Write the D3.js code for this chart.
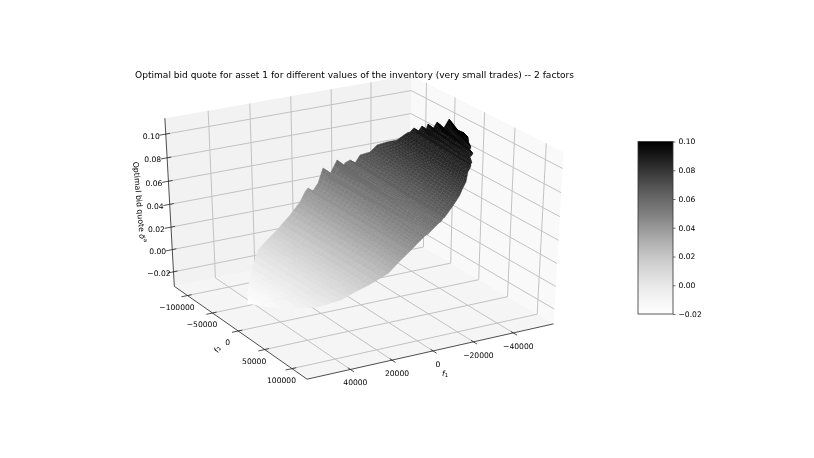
<!DOCTYPE html>
<html>
<head>
<meta charset="utf-8">
<script src="https://d3js.org/d3.v7.min.js"></script>
<style>
  body { margin: 0; background: #fff; }
  svg { filter: blur(0.3px); }
  text { font-family: "DejaVu Sans"; fill: #000; }
</style>
</head>
<body>
<svg id="chart" width="814" height="458"></svg>
<script>
// axis ticks
var f1Ticks = [-40000, -20000, 0, 20000, 40000];
var f2Ticks = [-100000, -50000, 0, 50000, 100000];
var zTicks = [-0.02, 0, 0.02, 0.04, 0.06, 0.08, 0.10];
var f1Limits = [-60500, 60500];
var f2Limits = [-127000, 127000];
var zLimits = [-0.0332, 0.1132];
var colorLimits = [-0.02, 0.10];

// surface outline: back edge of the sheet
var upperF1 = [49900, 47400, 43300, 37800, 30600, 25400, 20000, 12200, 5800, 1400, -600, -100, -4400, -10500, -10000, -8100, -16100, -12500, -16600, -18700, -18600, -22400, -25400, -29200, -32100, -34700, -39100, -40000, -42100, -40900, -44300, -42800, -46100, -44800, -48500, -46300, -51800, -49300, -49600, -49400];
var upperF2 = [-22100, -31900, -45700, -61100, -77000, -79600, -81100, -85500, -90800, -97900, -99700, -90100, -94800, -108300, -98600, -89900, -102700, -84000, -89800, -88000, -78600, -83200, -75800, -76800, -69500, -60900, -58700, -56600, -57200, -47700, -50900, -40200, -46800, -35000, -39400, -23000, -30100, -14800, -400, 5200];
var upperZ = [-0.0194, -0.0163, -0.0115, -0.0049, 0.0038, 0.0100, 0.0165, 0.0258, 0.0336, 0.0389, 0.0412, 0.0406, 0.0457, 0.0531, 0.0524, 0.0502, 0.0598, 0.0556, 0.0605, 0.0629, 0.0628, 0.0673, 0.0709, 0.0755, 0.0790, 0.0822, 0.0874, 0.0885, 0.0911, 0.0896, 0.0937, 0.0918, 0.0959, 0.0942, 0.0987, 0.0960, 0.1026, 0.0997, 0.1000, 0.0998];
// front edge of the sheet
var lowerF1 = [49900, 47600, 42400, 36600, 29500, 24100, 19100, 11600, 5800, 1100, 100, -400, -4000, -7600, -8900, -9900, -11400, -14500, -15400, -17300, -17600, -20900, -24100, -27700, -30600, -33200, -36900, -38700, -39900, -40000, -40700, -41600, -42400, -43500, -44300, -44800, -46000, -47000, -48900, -49400];
var lowerF2 = [-22100, -2300, 32000, 55600, 72100, 77100, 83300, 89300, 87200, 86000, 85700, 85600, 84600, 83600, 84400, 84100, 83700, 82900, 83200, 81600, 82000, 79000, 76000, 71900, 66800, 62900, 53300, 50700, 48200, 46000, 46900, 42400, 37800, 37500, 36200, 29500, 27000, 20200, 12000, 5200];
var lowerZ = [-0.0194, -0.0167, -0.0104, -0.0034, 0.0051, 0.0116, 0.0176, 0.0265, 0.0335, 0.0391, 0.0404, 0.0410, 0.0453, 0.0497, 0.0511, 0.0524, 0.0542, 0.0580, 0.0590, 0.0613, 0.0617, 0.0656, 0.0695, 0.0738, 0.0773, 0.0803, 0.0848, 0.0869, 0.0883, 0.0885, 0.0894, 0.0904, 0.0914, 0.0926, 0.0937, 0.0943, 0.0957, 0.0969, 0.0992, 0.0998];

var svg = d3.select("#chart");

// data to unit cube
var xScale = d3.scaleLinear().domain(f1Limits).range([-0.5, 0.5]);
var yScale = d3.scaleLinear().domain(f2Limits).range([-0.5, 0.5]);
var zScale = d3.scaleLinear().domain(zLimits).range([-0.5, 0.5]);

var colorScale = d3.scaleSequential(d3.interpolateGreys).domain(colorLimits).clamp(true);

// camera: elevation 30, azimuth 60, distance 10
var azim = 60 * Math.PI / 180;
var elev = 30 * Math.PI / 180;
var eye = [Math.cos(elev) * Math.cos(azim), Math.cos(elev) * Math.sin(azim), Math.sin(elev)];
var right = [-Math.sin(azim), Math.cos(azim), 0];
var up = [-Math.sin(elev) * Math.cos(azim), -Math.sin(elev) * Math.sin(azim), Math.cos(elev)];
var screenX = d3.scaleLinear().domain([0, 1]).range([361, 645.5]);
var screenY = d3.scaleLinear().domain([0, 1]).range([222, 26]);

function dot(a, b) { return a[0] * b[0] + a[1] * b[1] + a[2] * b[2]; }

function project(f1, f2, z) {
  var p = [xScale(f1), yScale(f2), zScale(z)];
  var w = 10 / (10 - dot(p, eye));
  return [screenX(dot(p, right) * w), screenY(dot(p, up) * w)];
}

var line3d = d3.line();

var f1a = f1Limits[0], f1b = f1Limits[1];
var f2a = f2Limits[0], f2b = f2Limits[1];
var za = zLimits[0], zb = zLimits[1];

// panes
var panes = [
  { fill: "#f2f2f2", pts: [[f1a, f2a, za], [f1b, f2a, za], [f1b, f2a, zb], [f1a, f2a, zb]] },
  { fill: "#f9f9f9", pts: [[f1a, f2a, za], [f1a, f2b, za], [f1a, f2b, zb], [f1a, f2a, zb]] },
  { fill: "#f5f5f5", pts: [[f1a, f2a, za], [f1b, f2a, za], [f1b, f2b, za], [f1a, f2b, za]] }
];
svg.append("g").selectAll("path")
  .data(panes)
  .enter()
  .append("path")
  .attr("d", function (d) { return line3d(d.pts.map(function (p) { return project(p[0], p[1], p[2]); })) + "Z"; })
  .attr("fill", function (d) { return d.fill; });

// grid lines run along the floor and up the two back walls
var gridLines = [];
f1Ticks.forEach(function (t) { gridLines.push([[t, f2b, za], [t, f2a, za], [t, f2a, zb]]); });
f2Ticks.forEach(function (t) { gridLines.push([[f1b, t, za], [f1a, t, za], [f1a, t, zb]]); });
zTicks.forEach(function (t) { gridLines.push([[f1b, f2a, t], [f1a, f2a, t], [f1a, f2b, t]]); });

svg.append("g").selectAll("path")
  .data(gridLines)
  .enter()
  .append("path")
  .attr("d", function (d) { return line3d(d.map(function (p) { return project(p[0], p[1], p[2]); })); })
  .attr("fill", "none")
  .attr("stroke", "#c2c2c2")
  .attr("stroke-width", 1);

// surface, each cell between two outline stations split up so the grey runs smoothly
var surface = svg.append("g");
var alongSteps = 3, acrossSteps = 24;

function sheetPoint(i, s, t) {
  var j = Math.min(i + 1, upperF1.length - 1);
  var uF1 = upperF1[i] + (upperF1[j] - upperF1[i]) * s;
  var uF2 = upperF2[i] + (upperF2[j] - upperF2[i]) * s;
  var uZ = upperZ[i] + (upperZ[j] - upperZ[i]) * s;
  var lF1 = lowerF1[i] + (lowerF1[j] - lowerF1[i]) * s;
  var lF2 = lowerF2[i] + (lowerF2[j] - lowerF2[i]) * s;
  var lZ = lowerZ[i] + (lowerZ[j] - lowerZ[i]) * s;
  return [uF1 + (lF1 - uF1) * t, uF2 + (lF2 - uF2) * t, uZ + (lZ - uZ) * t];
}

var cells = [];
d3.range(upperF1.length - 1).forEach(function (i) {
  d3.range(alongSteps).forEach(function (a) {
    d3.range(acrossSteps).forEach(function (b) {
      var s0 = a / alongSteps, s1 = (a + 1) / alongSteps;
      var t0 = b / acrossSteps, t1 = (b + 1) / acrossSteps;
      var corners = [sheetPoint(i, s0, t0), sheetPoint(i, s1, t0), sheetPoint(i, s1, t1), sheetPoint(i, s0, t1)];
      cells.push({ corners: corners, z: d3.mean(corners, function (c) { return c[2]; }) });
    });
  });
});

surface.selectAll("path")
  .data(cells)
  .enter()
  .append("path")
  .attr("d", function (d) { return line3d(d.corners.map(function (c) { return project(c[0], c[1], c[2]); })) + "Z"; })
  .attr("fill", function (d) { return colorScale(d.z); })
  .attr("stroke", function (d) { return colorScale(d.z); })
  .attr("stroke-width", 0.4);

// axis edges
var edges = [
  [[f1b, f2b, za], [f1a, f2b, za]],
  [[f1b, f2a, za], [f1b, f2b, za]],
  [[f1b, f2a, za], [f1b, f2a, zb]]
];
svg.append("g").selectAll("path")
  .data(edges)
  .enter()
  .append("path")
  .attr("d", function (d) { return line3d(d.map(function (p) { return project(p[0], p[1], p[2]); })); })
  .attr("stroke", "#222")
  .attr("stroke-width", 0.8);

// tick marks and labels
function tickLine(a, b) {
  svg.append("path")
    .attr("d", line3d([project(a[0], a[1], a[2]), project(b[0], b[1], b[2])]))
    .attr("stroke", "#222")
    .attr("stroke-width", 0.8);
}

function tickText(pos, dx, dy, label) {
  svg.append("text")
    .attr("x", pos[0] + dx)
    .attr("y", pos[1] + dy)
    .attr("text-anchor", "middle")
    .attr("dominant-baseline", "central")
    .attr("font-size", 7.6)
    .text(label);
}

var intFormat = d3.format("d");
var zFormat = d3.format(".2f");

f1Ticks.forEach(function (t) {
  tickLine([t, f2b - 4000, za], [t, f2b + 6000, za]);
  tickText(project(t, f2b, za), 5, 13.5, intFormat(t));
});
f2Ticks.forEach(function (t) {
  tickLine([f1b - 2000, t, za], [f1b + 3000, t, za]);
  tickText(project(f1b, t, za), -10.5, 11.5, intFormat(t));
});
zTicks.forEach(function (t) {
  tickLine([f1b - 2000, f2a, t], [f1b + 3000, f2a, t]);
  tickText(project(f1b, f2a, t), -14.5, 2, zFormat(t));
});

// title and axis labels
svg.append("text")
  .attr("x", 135)
  .attr("y", 78)
  .attr("font-size", 9.09)
  .text("Optimal bid quote for asset 1 for different values of the inventory (very small trades) -- 2 factors");

var f1Label = svg.append("text")
  .attr("x", 445)
  .attr("y", 373)
  .attr("text-anchor", "middle")
  .attr("dominant-baseline", "central")
  .attr("font-size", 7.6);
f1Label.append("tspan").attr("font-style", "italic").text("f");
f1Label.append("tspan").attr("font-size", 5.4).attr("dy", 1.5).text("1");

var f2Label = svg.append("text")
  .attr("text-anchor", "middle")
  .attr("dominant-baseline", "central")
  .attr("font-size", 7.6)
  .attr("transform", "translate(217,349) rotate(-60)");
f2Label.append("tspan").attr("font-style", "italic").text("f");
f2Label.append("tspan").attr("font-size", 5.4).attr("dy", 1.5).text("2");

var zLabel = svg.append("text")
  .attr("text-anchor", "middle")
  .attr("dominant-baseline", "central")
  .attr("font-size", 7.8)
  .attr("transform", "translate(139.5,202) rotate(85)");
zLabel.append("tspan").text("Optimal bid quote ");
zLabel.append("tspan").attr("font-style", "italic").text("δ");
zLabel.append("tspan").attr("font-size", 5.4).attr("dy", -3).text("a");

// colorbar
var barX = 638, barW = 35, barTop = 141.5, barBottom = 314;
var barScale = d3.scaleLinear().domain(colorLimits).range([barBottom, barTop]);
var barStops = d3.range(0, 1.001, 0.05);

var barGradient = svg.append("defs")
  .append("linearGradient")
  .attr("id", "barGradient")
  .attr("x1", 0).attr("x2", 0).attr("y1", 1).attr("y2", 0);
barGradient.selectAll("stop")
  .data(barStops)
  .enter()
  .append("stop")
  .attr("offset", function (d) { return d; })
  .attr("stop-color", function (d) { return d3.interpolateGreys(d); });

svg.append("rect")
  .attr("x", barX)
  .attr("y", barTop)
  .attr("width", barW)
  .attr("height", barBottom - barTop)
  .attr("fill", "url(#barGradient)")
  .attr("stroke", "#333")
  .attr("stroke-width", 0.8);

var barAxis = d3.axisRight(barScale)
  .tickValues(zTicks)
  .tickFormat(zFormat)
  .tickSize(2.5)
  .tickPadding(3);

var barG = svg.append("g")
  .attr("transform", "translate(" + (barX + barW) + ",0)")
  .call(barAxis);
barG.select(".domain").remove();
barG.selectAll("text").attr("font-size", 7.6).style("font-family", "DejaVu Sans").attr("fill", "#000");
barG.selectAll("line").attr("stroke", "#333").attr("stroke-width", 0.7);
</script>
</body>
</html>
